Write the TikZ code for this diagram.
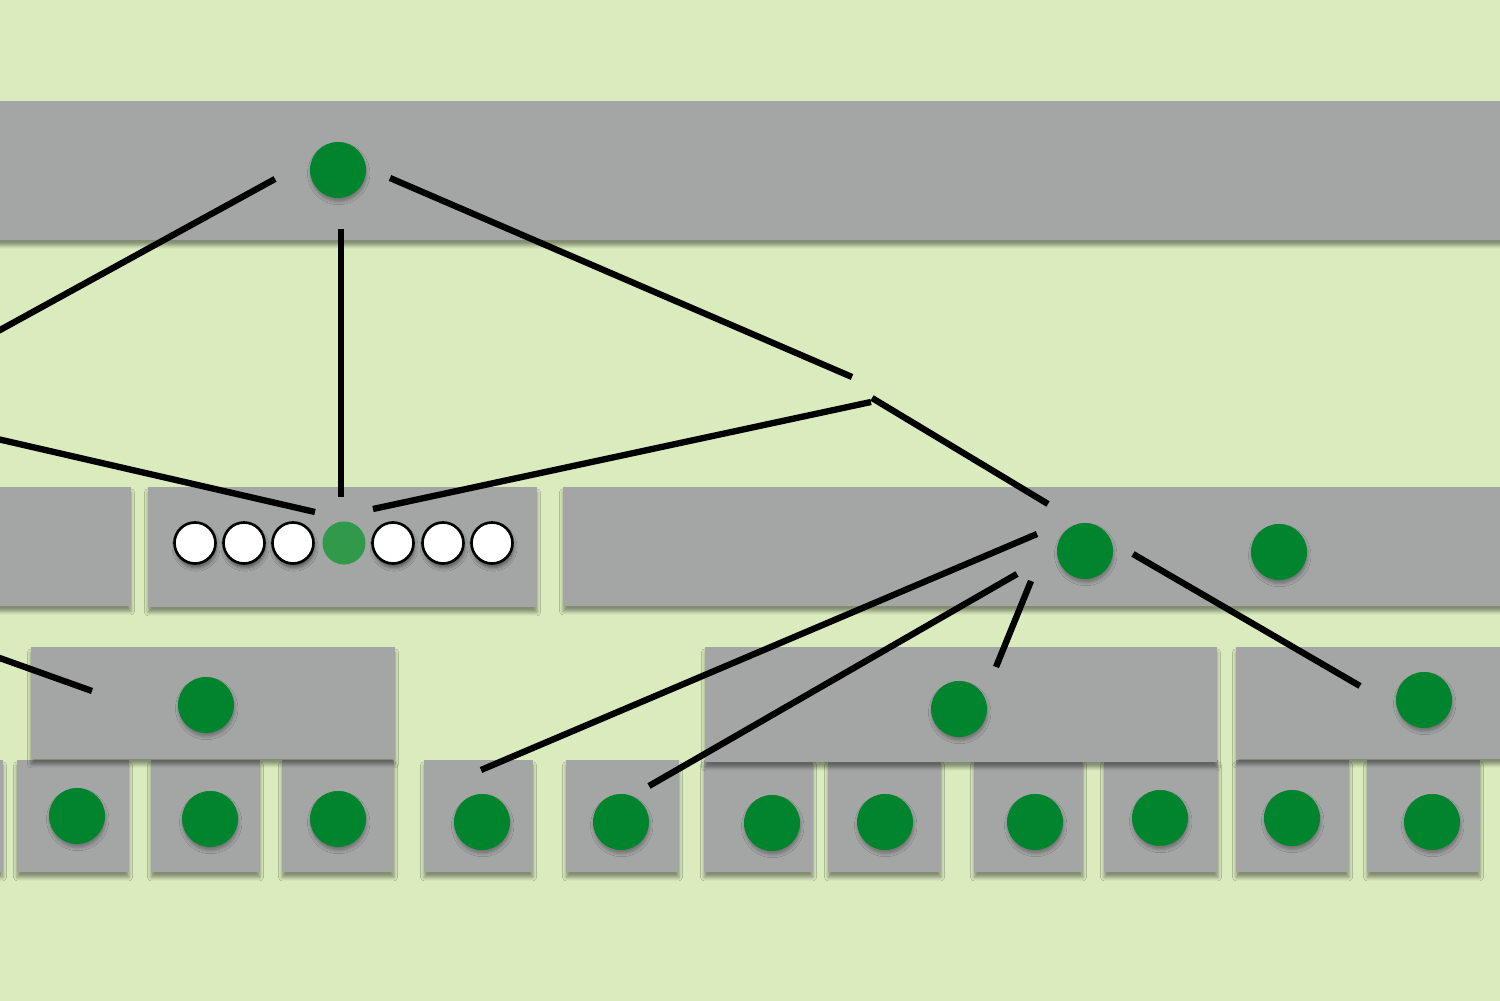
\documentclass[tikz,border=0pt]{standalone}
\usetikzlibrary{shadows.blur,calc}
\definecolor{bgc}{HTML}{DAEBBD}
\definecolor{boxc}{HTML}{A3A6A5}
\definecolor{nodec}{HTML}{00852E}
\definecolor{midc}{HTML}{31994A}
\begin{document}
\begin{tikzpicture}[x=0.01cm,y=-0.01cm,
  box/.style={fill=boxc, blur shadow={shadow xshift=0pt, shadow yshift=-1.5pt, shadow blur radius=1pt, shadow opacity=40}},
  gn/.style={circle, fill=nodec, minimum size=0.56cm, inner sep=0pt, blur shadow={shadow xshift=0.2pt, shadow yshift=-1pt, shadow blur radius=0.9pt, shadow opacity=30}},
  wn/.style={circle, fill=white, draw=black, line width=0.75pt, minimum size=0.41cm, inner sep=0pt, blur shadow={shadow xshift=0.3pt, shadow yshift=-1.2pt, shadow blur radius=1pt, shadow opacity=45}},
  mn/.style={circle, fill=midc, minimum size=0.43cm, inner sep=0pt},
  link/.style={line width=1.8pt, black}]
\useasboundingbox (0,0) rectangle (1500,1001);
\clip (0,0) rectangle (1500,1001);
\fill[bgc] (-10,-10) rectangle (1510,1011);
% top band
\fill[box] (-30,101) rectangle (1530,240);
% second row
\fill[box] (-30,487) rectangle (131,606);
\fill[box] (148,487) rectangle (537,607);
\fill[box] (563,487) rectangle (1530,606);
% bottom row
\foreach \a/\b in {-110/3, 17/129, 151/260, 282/394, 424/533, 566/679, 704/813, 828/941, 974/1083, 1104/1218, 1236/1349, 1367/1480}
  \fill[box] (\a,760) rectangle (\b,872);
% third row
\fill[box] (31,647) rectangle (395,759);
\fill[box] (705,647) rectangle (1217,762);
\fill[box] (1236,647) rectangle (1530,759);
% nodes
\node[gn] (top) at (338,170) {};
\node[wn] (w1) at (195,543) {};
\node[wn] (w2) at (244,543) {};
\node[wn] (w3) at (293,543) {};
\node[mn] (m) at (344,543) {};
\node[wn] (w5) at (393,543) {};
\node[wn] (w6) at (443,543) {};
\node[wn] (w7) at (492,543) {};
\node[gn] (c1) at (1085,551) {};
\node[gn] (c2) at (1279,552) {};
\node[gn] (d) at (206,705) {};
\node[gn] (e) at (959,709) {};
\node[gn] (f) at (1424,700) {};
\node[gn] (b1) at (77,816) {};
\node[gn] (b2) at (210,819) {};
\node[gn] (b3) at (338,819) {};
\node[gn] (b4) at (482,822) {};
\node[gn] (b5) at (621,822) {};
\node[gn] (b6) at (772,823) {};
\node[gn] (b7) at (885,822) {};
\node[gn] (b8) at (1035,822) {};
\node[gn] (b9) at (1160,818) {};
\node[gn] (b10) at (1292,818) {};
\node[gn] (b11) at (1432,822) {};
\coordinate (J) at (871,400);
\coordinate (offA) at (-20,341);
\coordinate (offB) at (-20,435);
\coordinate (offC) at (-20,651);
% connectors
\draw[link] ([shift={(-63,9)}]top.center) -- (offA);
\draw[link] ([shift={(3,59)}]top.center) -- ([shift={(-3,-46)}]m.center);
\draw[link] ([shift={(52,8)}]top.center) -- ([shift={(-19,-23)}]J);
\draw[link] ([shift={(0,2)}]J) -- ([shift={(29,-34)}]m.center);
\draw[link] (offB) -- ([shift={(-29,-31)}]m.center);
\draw[link] ([shift={(1,-2)}]J) -- ([shift={(-37,-47)}]c1.center);
\draw[link] ([shift={(-48,-17)}]c1.center) -- ([shift={(-1,-52)}]b4.center);
\draw[link] ([shift={(-68,23)}]c1.center) -- ([shift={(28,-36)}]b5.center);
\draw[link] ([shift={(-54,30)}]c1.center) -- ([shift={(37,-42)}]e.center);
\draw[link] ([shift={(48,3)}]c1.center) -- ([shift={(-64,-14)}]f.center);
\draw[link] (offC) -- ([shift={(-114,-14)}]d.center);
\end{tikzpicture}
\end{document}
